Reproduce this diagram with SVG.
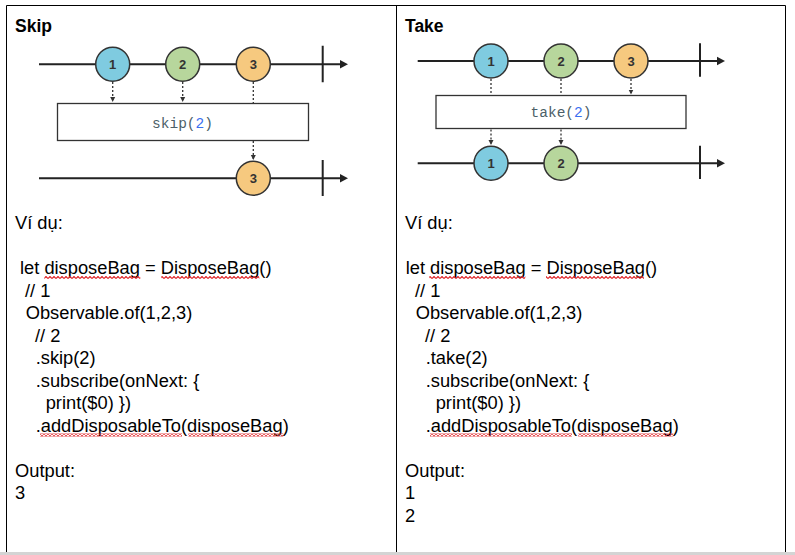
<svg xmlns="http://www.w3.org/2000/svg" width="795" height="555" viewBox="0 0 795 555">
<style>
.tl{stroke:#222;stroke-width:2;fill:none}
.dot{stroke:#333;stroke-width:1.3;stroke-dasharray:2,2;fill:none}
.c1{fill:#7fcbe0;stroke:#333;stroke-width:1.5}
.c2{fill:#b7d69c;stroke:#333;stroke-width:1.5}
.c3{fill:#f6c97f;stroke:#333;stroke-width:1.5}
.num{font-family:"Liberation Sans",Arial,sans-serif;font-weight:bold;font-size:13px;fill:#333;text-anchor:middle}
.box{fill:#fff;stroke:#333;stroke-width:1.3}
.op{font-family:"Liberation Mono","DejaVu Sans Mono",monospace;font-size:14.5px;fill:#4c5f68;text-anchor:middle}
.arg{fill:#3a6ff0}
.title{font-family:"Liberation Sans",Arial,sans-serif;font-weight:bold;font-size:17.5px;fill:#000}
.body{font-family:"Liberation Sans",Arial,sans-serif;font-size:18.3px;fill:#000}
.grid{stroke:#000;stroke-width:1;fill:none}
</style>
<defs>
<marker id="ah" markerWidth="6" markerHeight="6" refX="5" refY="3" orient="auto" markerUnits="userSpaceOnUse">
<path d="M0,0.5 L5,3 L0,5.5 Z" fill="#333"/>
</marker>
<pattern id="squig" width="4" height="3" patternUnits="userSpaceOnUse">
<polyline points="0,2.5 2,0.5 4,2.5" fill="none" stroke="#e0262a" stroke-width="1.2"/>
</pattern>
</defs>
<rect x="0" y="0" width="795" height="555" fill="#fff"/>
<g id="table">
<path class="grid" d="M6.5,552 V5.5 H785.5 V552 M396.5,5.5 V552"/>
<rect x="0" y="552" width="795" height="3" fill="#d4d4d4"/>
</g>
<g id="connectors">
<path class="dot" d="M112.7,82 V102" marker-end="url(#ah)"/>
<path class="dot" d="M182.7,82 V102" marker-end="url(#ah)"/>
<path class="dot" d="M253.3,82 V103"/>
<path class="dot" d="M253.3,141 V160" marker-end="url(#ah)"/>
<path class="dot" d="M491,79 V95"/>
<path class="dot" d="M561,79 V95"/>
<path class="dot" d="M631,79 V94.5" marker-end="url(#ah)"/>
<path class="dot" d="M491,129.5 V145" marker-end="url(#ah)"/>
<path class="dot" d="M561,129.5 V145" marker-end="url(#ah)"/>
</g>
<g id="skip-title"><text class="title" x="15" y="31.5">Skip</text></g>
<g id="skip-input">
<path class="tl" d="M39,64.3 H341 M322.7,45.7 V82.3"/>
<path d="M340,60 L348,64.3 L340,68.6 Z" fill="#222"/>
<circle class="c1" cx="112.7" cy="64.3" r="17"/><text class="num" x="112.7" y="69">1</text>
<circle class="c2" cx="182.7" cy="64.3" r="17"/><text class="num" x="182.7" y="69">2</text>
<circle class="c3" cx="253.3" cy="64.3" r="17"/><text class="num" x="253.3" y="69">3</text>
</g>
<g id="skip-op">
<rect class="box" x="57.5" y="103.5" width="251" height="37"/>
<text class="op" x="182.5" y="127.5">skip(<tspan class="arg">2</tspan>)</text>
</g>
<g id="skip-output">
<path class="tl" d="M39,178.3 H341 M322.7,160 V196"/>
<path d="M340,174 L348,178.3 L340,182.6 Z" fill="#222"/>
<circle class="c3" cx="253.3" cy="178.3" r="17"/><text class="num" x="253.3" y="183">3</text>
</g>
<g id="take-title"><text class="title" x="405" y="31.5">Take</text></g>
<g id="take-input">
<path class="tl" d="M417.7,61 H718 M700,43.3 V76.7"/>
<path d="M717,56.7 L725,61 L717,65.3 Z" fill="#222"/>
<circle class="c1" cx="491" cy="61" r="17"/><text class="num" x="491" y="65.7">1</text>
<circle class="c2" cx="561" cy="61" r="17"/><text class="num" x="561" y="65.7">2</text>
<circle class="c3" cx="631" cy="61" r="17"/><text class="num" x="631" y="65.7">3</text>
</g>
<g id="take-op">
<rect class="box" x="436" y="95.5" width="250" height="33"/>
<text class="op" x="561" y="116.5">take(<tspan class="arg">2</tspan>)</text>
</g>
<g id="take-output">
<path class="tl" d="M417.7,163.3 H718 M700,145.7 V179"/>
<path d="M717,159 L725,163.3 L717,167.6 Z" fill="#222"/>
<circle class="c1" cx="491" cy="163.3" r="17"/><text class="num" x="491" y="168">1</text>
<circle class="c2" cx="561" cy="163.3" r="17"/><text class="num" x="561" y="168">2</text>
</g>
<g id="skip-code">
<text class="body" x="15" y="229">Ví dụ:</text>
<text class="body" x="20" y="274">let disposeBag = DisposeBag()</text>
<text class="body" x="25" y="296.5">// 1</text>
<text class="body" x="25.7" y="319">Observable.of(1,2,3)</text>
<text class="body" x="35" y="341.5">// 2</text>
<text class="body" x="35.7" y="364">.skip(2)</text>
<text class="body" x="35.7" y="386.5">.subscribe(onNext: {</text>
<text class="body" x="45.7" y="409">print($0) })</text>
<text class="body" x="35.7" y="431.5">.addDisposableTo(disposeBag)</text>
<text class="body" x="15" y="476.5">Output:</text>
<text class="body" x="15" y="499">3</text>
<rect x="44.3" y="276" width="96" height="3" fill="url(#squig)"/>
<rect x="161.3" y="276" width="98" height="3" fill="url(#squig)"/>
<rect x="40" y="433.5" width="142" height="3" fill="url(#squig)"/>
<rect x="188.3" y="433.5" width="95" height="3" fill="url(#squig)"/>
</g>
<g id="take-code">
<text class="body" x="405" y="229">Ví dụ:</text>
<text class="body" x="405.7" y="274">let disposeBag = DisposeBag()</text>
<text class="body" x="415" y="296.5">// 1</text>
<text class="body" x="415.7" y="319">Observable.of(1,2,3)</text>
<text class="body" x="425" y="341.5">// 2</text>
<text class="body" x="425.7" y="364">.take(2)</text>
<text class="body" x="425.7" y="386.5">.subscribe(onNext: {</text>
<text class="body" x="435.7" y="409">print($0) })</text>
<text class="body" x="425.7" y="431.5">.addDisposableTo(disposeBag)</text>
<text class="body" x="405" y="476.5">Output:</text>
<text class="body" x="405" y="499">1</text>
<text class="body" x="405" y="521.5">2</text>
<rect x="429.3" y="276" width="96" height="3" fill="url(#squig)"/>
<rect x="546" y="276" width="98" height="3" fill="url(#squig)"/>
<rect x="430" y="433.5" width="142" height="3" fill="url(#squig)"/>
<rect x="578.3" y="433.5" width="95" height="3" fill="url(#squig)"/>
</g>
</svg>
